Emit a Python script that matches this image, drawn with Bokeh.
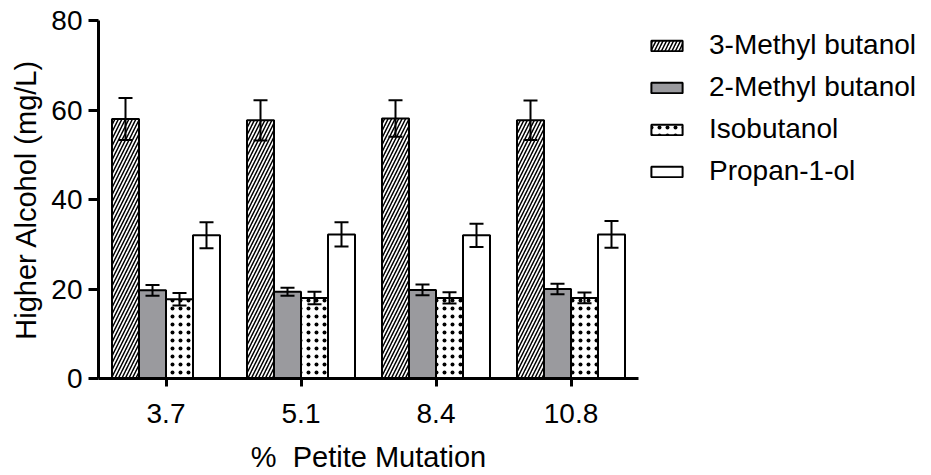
from bokeh.plotting import figure
from bokeh.models import (ColumnDataSource, FactorRange, Range1d, Whisker, TeeHead,
                          Legend, LegendItem, FixedTicker)
from bokeh.layouts import row
from bokeh.transform import dodge
from bokeh.embed import file_html
from bokeh.resources import INLINE

# ---- data ----
mutation = ["3.7", "5.1", "8.4", "10.8"]
series_names = ["3-Methyl butanol", "2-Methyl butanol", "Isobutanol", "Propan-1-ol"]
methyl3 = [58.0, 57.7, 58.1, 57.7]
methyl3_err = [4.7, 4.5, 4.1, 4.4]
methyl2 = [19.7, 19.4, 19.8, 20.0]
methyl2_err = [1.2, 0.9, 1.2, 1.2]
isobutanol = [17.7, 18.0, 18.0, 18.0]
isobutanol_err = [1.4, 1.4, 1.25, 1.2]
propanol = [32.0, 32.2, 32.0, 32.2]
propanol_err = [2.9, 2.7, 2.6, 3.0]
y_ticks = [0, 20, 40, 60, 80]

FONT = "Liberation Sans"
FS = "28px"
FS_LABEL = "29px"

p = figure(width=645, height=475, x_range=FactorRange(*mutation, range_padding=0),
           y_range=Range1d(0, 80), output_backend="svg", toolbar_location=None,
           min_border_left=98, min_border_right=7, min_border_top=20, min_border_bottom=94)
p.x_range.range_padding = 0
p.outline_line_color = None
p.grid.visible = False
p.background_fill_color = "white"

# legend panel (separate figure to the right; frames of a row are aligned)
p2 = figure(width=286, height=475, x_range=Range1d(0, 1), y_range=Range1d(0, 1),
            output_backend="svg", toolbar_location=None, x_axis_location=None,
            y_axis_location=None, min_border_left=0, min_border_right=0,
            min_border_top=20, min_border_bottom=94)
p2.outline_line_color = None
p2.grid.visible = False

values = [methyl3, methyl2, isobutanol, propanol]
errors = [methyl3_err, methyl2_err, isobutanol_err, propanol_err]
offsets = [-0.3, -0.1, 0.1, 0.3]
styles = [
    dict(fill_color="white", hatch_pattern="/", hatch_scale=7, hatch_weight=1.5, hatch_color="black"),
    dict(fill_color="#9a9a9e"),
    dict(fill_color="white", hatch_pattern=".", hatch_scale=8, hatch_weight=0.6, hatch_color="black"),
    dict(fill_color="white"),
]

items = []
for name, vals, errs, off, st in zip(series_names, values, errors, offsets, styles):
    src = ColumnDataSource(dict(x=mutation, top=vals,
                                upper=[v + e for v, e in zip(vals, errs)],
                                lower=[v - e for v, e in zip(vals, errs)]))
    p.vbar(x=dodge("x", off, range=p.x_range), top="top", width=0.2, source=src,
           line_color="black", line_width=2, **st)
    w = Whisker(source=src, base=dodge("x", off, range=p.x_range), upper="upper", lower="lower",
                line_color="black", line_width=2, level="overlay",
                upper_head=TeeHead(size=14, line_width=2, line_color="black"),
                lower_head=TeeHead(size=14, line_width=2, line_color="black"))
    p.add_layout(w)
    # legend swatch renderer in the legend panel (degenerate, zero-size bar)
    r2 = p2.vbar(x=[0.5], top=[0.5], bottom=[0.5], width=0, line_color="black",
                 line_width=2, **st)
    items.append(LegendItem(label=name, renderers=[r2]))

legend = Legend(items=items, location=(2, 186), margin=0, padding=0, spacing=0,
                glyph_width=39, glyph_height=13, label_height=42, label_standoff=23,
                label_text_font=FONT, label_text_font_size=FS, label_text_color="black",
                border_line_color=None, background_fill_alpha=0)
p2.add_layout(legend)

for ax in (p.xaxis, p.yaxis):
    ax.axis_line_width = 3
    ax.axis_line_color = "black"
    ax.major_tick_line_width = 3
    ax.major_tick_line_color = "black"
    ax.major_tick_in = 0
    ax.minor_tick_line_color = None
    ax.major_label_text_font = FONT
    ax.major_label_text_font_size = FS
    ax.major_label_text_color = "black"
    ax.axis_label_text_font = FONT
    ax.axis_label_text_font_size = FS_LABEL
    ax.axis_label_text_font_style = "normal"
    ax.axis_label_text_color = "black"

p.yaxis.ticker = FixedTicker(ticks=y_ticks)
p.yaxis.major_tick_out = 10
p.yaxis.major_label_standoff = 6
p.yaxis.axis_label = "Higher Alcohol (mg/L)"
p.yaxis.axis_label_standoff = 6

p.xaxis.major_tick_out = 8
p.xaxis.major_label_standoff = 17
p.xaxis.axis_label = "%\u00a0\u00a0Petite Mutation"
p.xaxis.axis_label_standoff = 15

layout = row(p, p2, spacing=0)
open("out.html", "w").write(file_html(layout, INLINE))
